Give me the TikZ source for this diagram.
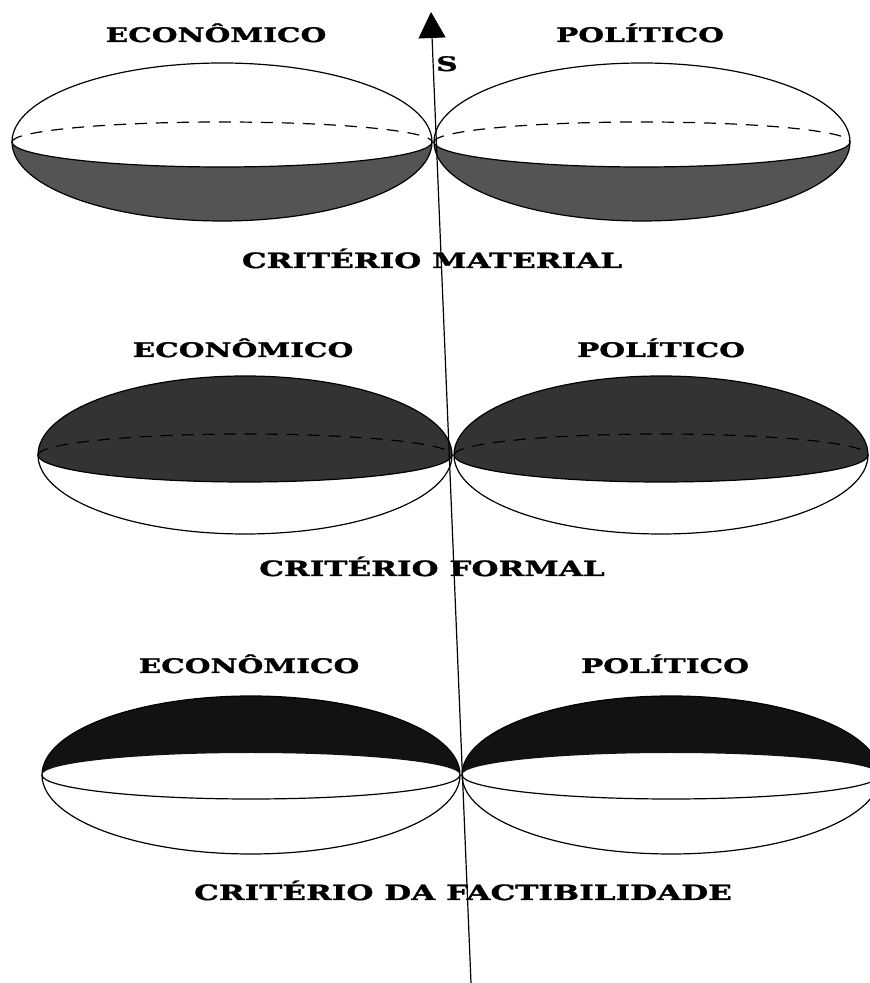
\documentclass[tikz,border=0pt]{standalone}
\usepackage{xcolor}
\usepackage{fontspec}
\newfontfamily\lblfont[FakeStretch=1.48, FakeBold=1.5]{DejaVu Serif Bold}
\usepackage{tikz}
\usetikzlibrary{arrows.meta, positioning}

\tikzset{
  lbl/.style={font=\lblfont\fontsize{20}{24}\selectfont, inner sep=0pt, anchor=base},
  crit/.style={font=\lblfont\fontsize{21}{25}\selectfont, inner sep=0pt, anchor=base},
  rim/.style={draw=black, line width=1.2pt},
  backarc/.style={draw=black, line width=1.2pt, dash pattern=on 12pt off 9pt},
}

\begin{document}
\begin{tikzpicture}[x=1pt, y=1pt]
    \useasboundingbox[fill=white] (0,0) rectangle (870,983);

    % material: lower cap shaded
    \foreach \cx/\a in {222/210, 642/208} {
        \fill[black!67] (\cx-\a,841) arc[start angle=180, end angle=360, x radius=\a pt, y radius=25pt]
            arc[start angle=0, end angle=-180, x radius=\a pt, y radius=79pt] -- cycle;
        \draw[rim] (\cx,841) ellipse[x radius=\a pt, y radius=79pt];
        \draw[backarc] (\cx-\a,841) arc[start angle=180, end angle=0, x radius=\a pt, y radius=20pt];
        \draw[rim] (\cx-\a,841) arc[start angle=180, end angle=360, x radius=\a pt, y radius=25pt];
    }

    % formal: upper part shaded
    \foreach \cx/\a in {245/207, 661/207} {
        \fill[black!80] (\cx-\a,528) arc[start angle=180, end angle=360, x radius=\a pt, y radius=27pt]
            arc[start angle=0, end angle=180, x radius=\a pt, y radius=79pt] -- cycle;
        \draw[rim] (\cx,528) ellipse[x radius=\a pt, y radius=79pt];
        \draw[backarc] (\cx-\a,528) arc[start angle=180, end angle=0, x radius=\a pt, y radius=21pt];
        \draw[rim] (\cx-\a,528) arc[start angle=180, end angle=360, x radius=\a pt, y radius=27pt];
    }

    % factibilidade: top cap black
    \foreach \cx/\a in {251/209, 671/209} {
        \fill[black!93] (\cx-\a,208) arc[start angle=180, end angle=0, x radius=\a pt, y radius=22pt]
            arc[start angle=0, end angle=180, x radius=\a pt, y radius=79pt] -- cycle;
        \draw[rim] (\cx,208) ellipse[x radius=\a pt, y radius=79pt];
        \draw[rim] (\cx-\a,208) arc[start angle=180, end angle=360, x radius=\a pt, y radius=24pt];
    }

    \coordinate (sbase) at (471,0);
    \coordinate (stip) at (431,971);
    \draw[line width=1.2pt, -{Triangle[length=26pt, width=27pt]}] (sbase) -- (stip);
    \node[lbl] (s) at (447,912) {S};

    \node[lbl] (eco1) at (216,941) {ECONÔMICO};
    \node[lbl] (pol1) at (640,941) {POLÍTICO};
    \node[crit] (mat) at (432,715) {CRITÉRIO MATERIAL};

    \node[lbl] (eco2) at (243,626) {ECONÔMICO};
    \node[lbl] (pol2) at (661,626) {POLÍTICO};
    \node[crit] (form) at (432,407) {CRITÉRIO FORMAL};

    \node[lbl] (eco3) at (249,310) {ECONÔMICO};
    \node[lbl] (pol3) at (665,310) {POLÍTICO};
    \node[crit] (fact) at (463,83) {CRITÉRIO DA FACTIBILIDADE};
\end{tikzpicture}
\end{document}
